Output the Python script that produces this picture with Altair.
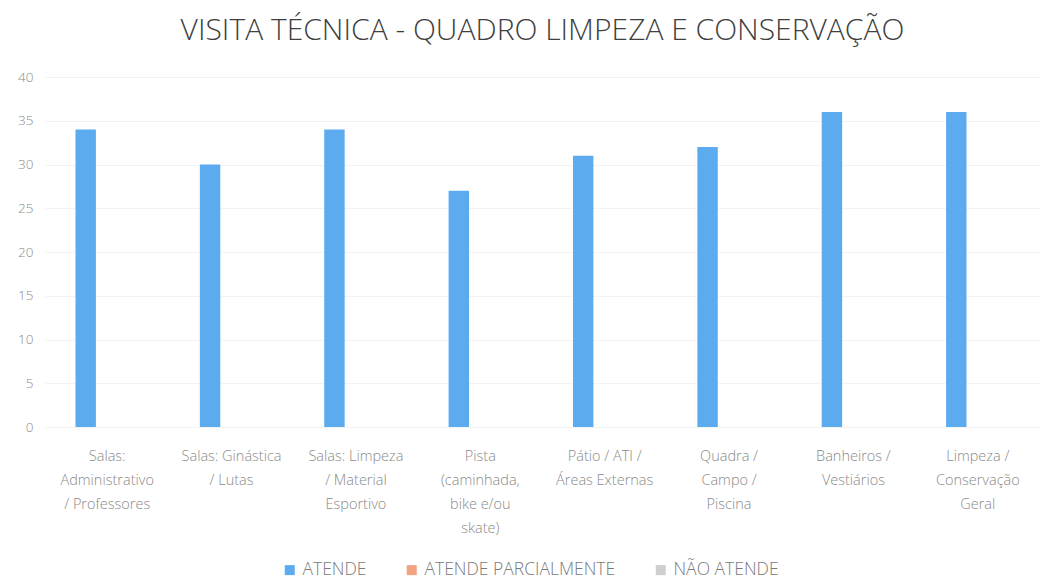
import altair as alt
import pandas as pd

categories = [
    "Salas:\nAdministrativo\n/ Professores",
    "Salas: Ginástica\n/ Lutas",
    "Salas: Limpeza\n/ Material\nEsportivo",
    "Pista\n(caminhada,\nbike e/ou\nskate)",
    "Pátio / ATI /\nÁreas Externas",
    "Quadra /\nCampo /\nPiscina",
    "Banheiros /\nVestiários",
    "Limpeza /\nConservação\nGeral",
]
series = ["ATENDE", "ATENDE PARCIALMENTE", "NÃO ATENDE"]
atende = [34, 30, 34, 27, 31, 32, 36, 36]
parcial = [0, 0, 0, 0, 0, 0, 0, 0]
nao_atende = [0, 0, 0, 0, 0, 0, 0, 0]
colors = ["#5DABEF", "#F2A27E", "#CFCFCF"]

rows = []
for s, vals in zip(series, [atende, parcial, nao_atende]):
    for c, v in zip(categories, vals):
        rows.append({"cat": c, "serie": s, "valor": v})
df = pd.DataFrame(rows)

chart = alt.Chart(df).mark_bar().encode(
    x=alt.X("cat:N", sort=categories,
            scale=alt.Scale(paddingInner=0.49, paddingOuter=0.245),
            axis=alt.Axis(title=None, labelAngle=0, ticks=False, domain=False,
                          labelExpr="split(datum.value, '\\n')",
                          labelFont="Open Sans", labelFontSize=14.5, labelColor="#8a8a8a",
                          labelLineHeight=24, labelPadding=22, labelBaseline="top",
                          labelFontWeight=300, labelLimit=200)),
    xOffset=alt.XOffset("serie:N", sort=series,
                        scale=alt.Scale(domain=series, paddingInner=0.05, paddingOuter=0)),
    y=alt.Y("valor:Q", scale=alt.Scale(domain=[0, 40]),
            axis=alt.Axis(title=None, values=[0, 5, 10, 15, 20, 25, 30, 35, 40],
                          ticks=False, domain=False, grid=True, gridColor="#f3f3f3",
                          labelFont="Open Sans", labelFontSize=13.5, labelColor="#8a8a8a",
                          labelPadding=12, minExtent=30, maxExtent=30,
                          labelFontWeight=300)),
    color=alt.Color("serie:N", sort=series,
                    scale=alt.Scale(domain=series, range=colors),
                    legend=alt.Legend(title=None, orient="none", direction="horizontal",
                                      legendX=236, legendY=484,
                                      symbolType="square", symbolSize=100,
                                      symbolStrokeWidth=0, labelLimit=400,
                                      labelFont="Open Sans", labelFontSize=17.5,
                                      labelColor="#7a7a7a", labelFontWeight=300,
                                      columnPadding=36, labelOffset=4)),
).properties(
    width=995,
    height=350,
    title=alt.TitleParams("VISITA TÉCNICA - QUADRO LIMPEZA E CONSERVAÇÃO",
                          font="Open Sans", fontSize=30, fontWeight=300,
                          color="#3f3f3f", anchor="middle", offset=24),
    padding={"left": 7, "top": 8, "right": 0, "bottom": 0},
).configure_view(stroke=None)

chart.save("out.html", embed_options={"renderer": "svg", "actions": False})
